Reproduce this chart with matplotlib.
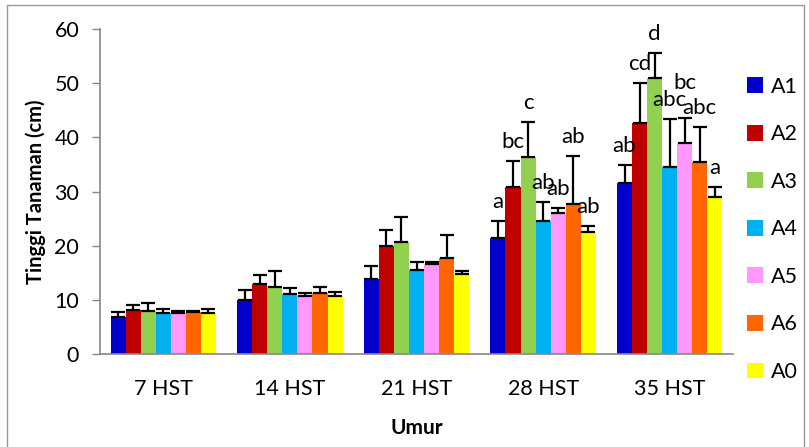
import numpy as np
import matplotlib.pyplot as plt
from matplotlib.patches import Rectangle

plt.rcParams['font.family'] = ['Lato', 'DejaVu Sans']

# data
umur = ["7 HST", "14 HST", "21 HST", "28 HST", "35 HST"]
perlakuan = ["A1", "A2", "A3", "A4", "A5", "A6", "A0"]
warna = ["#0000CC", "#C00000", "#92D050", "#00B0F0", "#FF99FF", "#FF6600", "#FFFF00"]

A1 = [6.9, 9.9, 13.8, 21.4, 31.6]
A2 = [8.1, 12.9, 19.9, 30.8, 42.6]
A3 = [7.9, 12.4, 20.7, 36.4, 51.0]
A4 = [7.6, 11.1, 15.5, 24.6, 34.6]
A5 = [7.5, 10.8, 16.7, 26.0, 39.0]
A6 = [7.7, 11.2, 17.7, 27.6, 35.4]
A0 = [7.6, 10.7, 14.7, 22.5, 28.9]

sd_A1 = [0.9, 1.9, 2.4, 3.2, 3.3]
sd_A2 = [0.9, 1.7, 3.0, 4.9, 7.4]
sd_A3 = [1.5, 2.9, 4.6, 6.4, 4.6]
sd_A4 = [0.8, 1.0, 1.4, 3.5, 8.8]
sd_A5 = [0.5, 0.5, 0.3, 0.9, 4.6]
sd_A6 = [0.3, 1.2, 4.3, 8.9, 6.6]
sd_A0 = [0.8, 0.8, 0.7, 1.2, 1.9]

# notasi huruf (28 HST dan 35 HST)
notasi_28 = ["a", "bc", "c", "ab", "ab", "ab", "ab"]
notasi_35 = ["ab", "cd", "d", "abc", "bc", "abc", "a"]

rata = [A1, A2, A3, A4, A5, A6, A0]
sd = [sd_A1, sd_A2, sd_A3, sd_A4, sd_A5, sd_A6, sd_A0]

fig = plt.figure(figsize=(8.09, 4.47), dpi=100)
ax = fig.add_axes([100/809, 1-354/447, 633/809, 325/447])

x = np.arange(len(umur))
w = 0.119
for i in range(len(perlakuan)):
    pos = x + (i-3)*w
    ax.bar(pos, rata[i], width=w, color=warna[i], label=perlakuan[i], zorder=2)
    ax.errorbar(pos, rata[i], yerr=[np.zeros(len(umur)), sd[i]], fmt='none',
                ecolor='black', elinewidth=1.6, capsize=5, capthick=1.6, zorder=3)
    # letters above the error bars
    for j, notasi in ((3, notasi_28), (4, notasi_35)):
        top = rata[i][j] + sd[i][j]
        dy = 19 if not (j == 4 and i == 4) else 35
        ax.annotate(notasi[i], (pos[j], top), xytext=(0, dy), textcoords='offset pixels',
                    ha='center', va='center', fontsize=16)

ax.set_xlim(-0.5, 4.5)
ax.set_ylim(0, 60)
ax.set_yticks(range(0, 61, 10))
ax.set_xticks(x)
ax.set_xticklabels(umur, fontsize=15.5)
ax.tick_params(axis='x', length=0, pad=18)
ax.tick_params(axis='y', length=6, color='#888888', width=1, labelsize=15.5, pad=9)
for s in ['top', 'right']:
    ax.spines[s].set_visible(False)
for s in ['left', 'bottom']:
    ax.spines[s].set_color('#888888')
    ax.spines[s].set_linewidth(1.2)

ax.set_xlabel("Umur", fontsize=15, fontweight='bold', labelpad=14)
ax.set_ylabel("Tinggi Tanaman (cm)", fontsize=14.5, fontweight='bold', labelpad=6)

fig.legend(loc='upper left', bbox_to_anchor=(738/809, 1-68/447), frameon=False,
           fontsize=15.5, handlelength=0.75, handleheight=0.75, handletextpad=0.4,
           labelspacing=1.28, borderaxespad=0)

fig.patches.append(Rectangle((7/809, -0.01), 797/809, 1-5/447+0.01, transform=fig.transFigure,
                             fill=False, edgecolor='#999999', linewidth=1))

fig.savefig("out.png", dpi=100)
